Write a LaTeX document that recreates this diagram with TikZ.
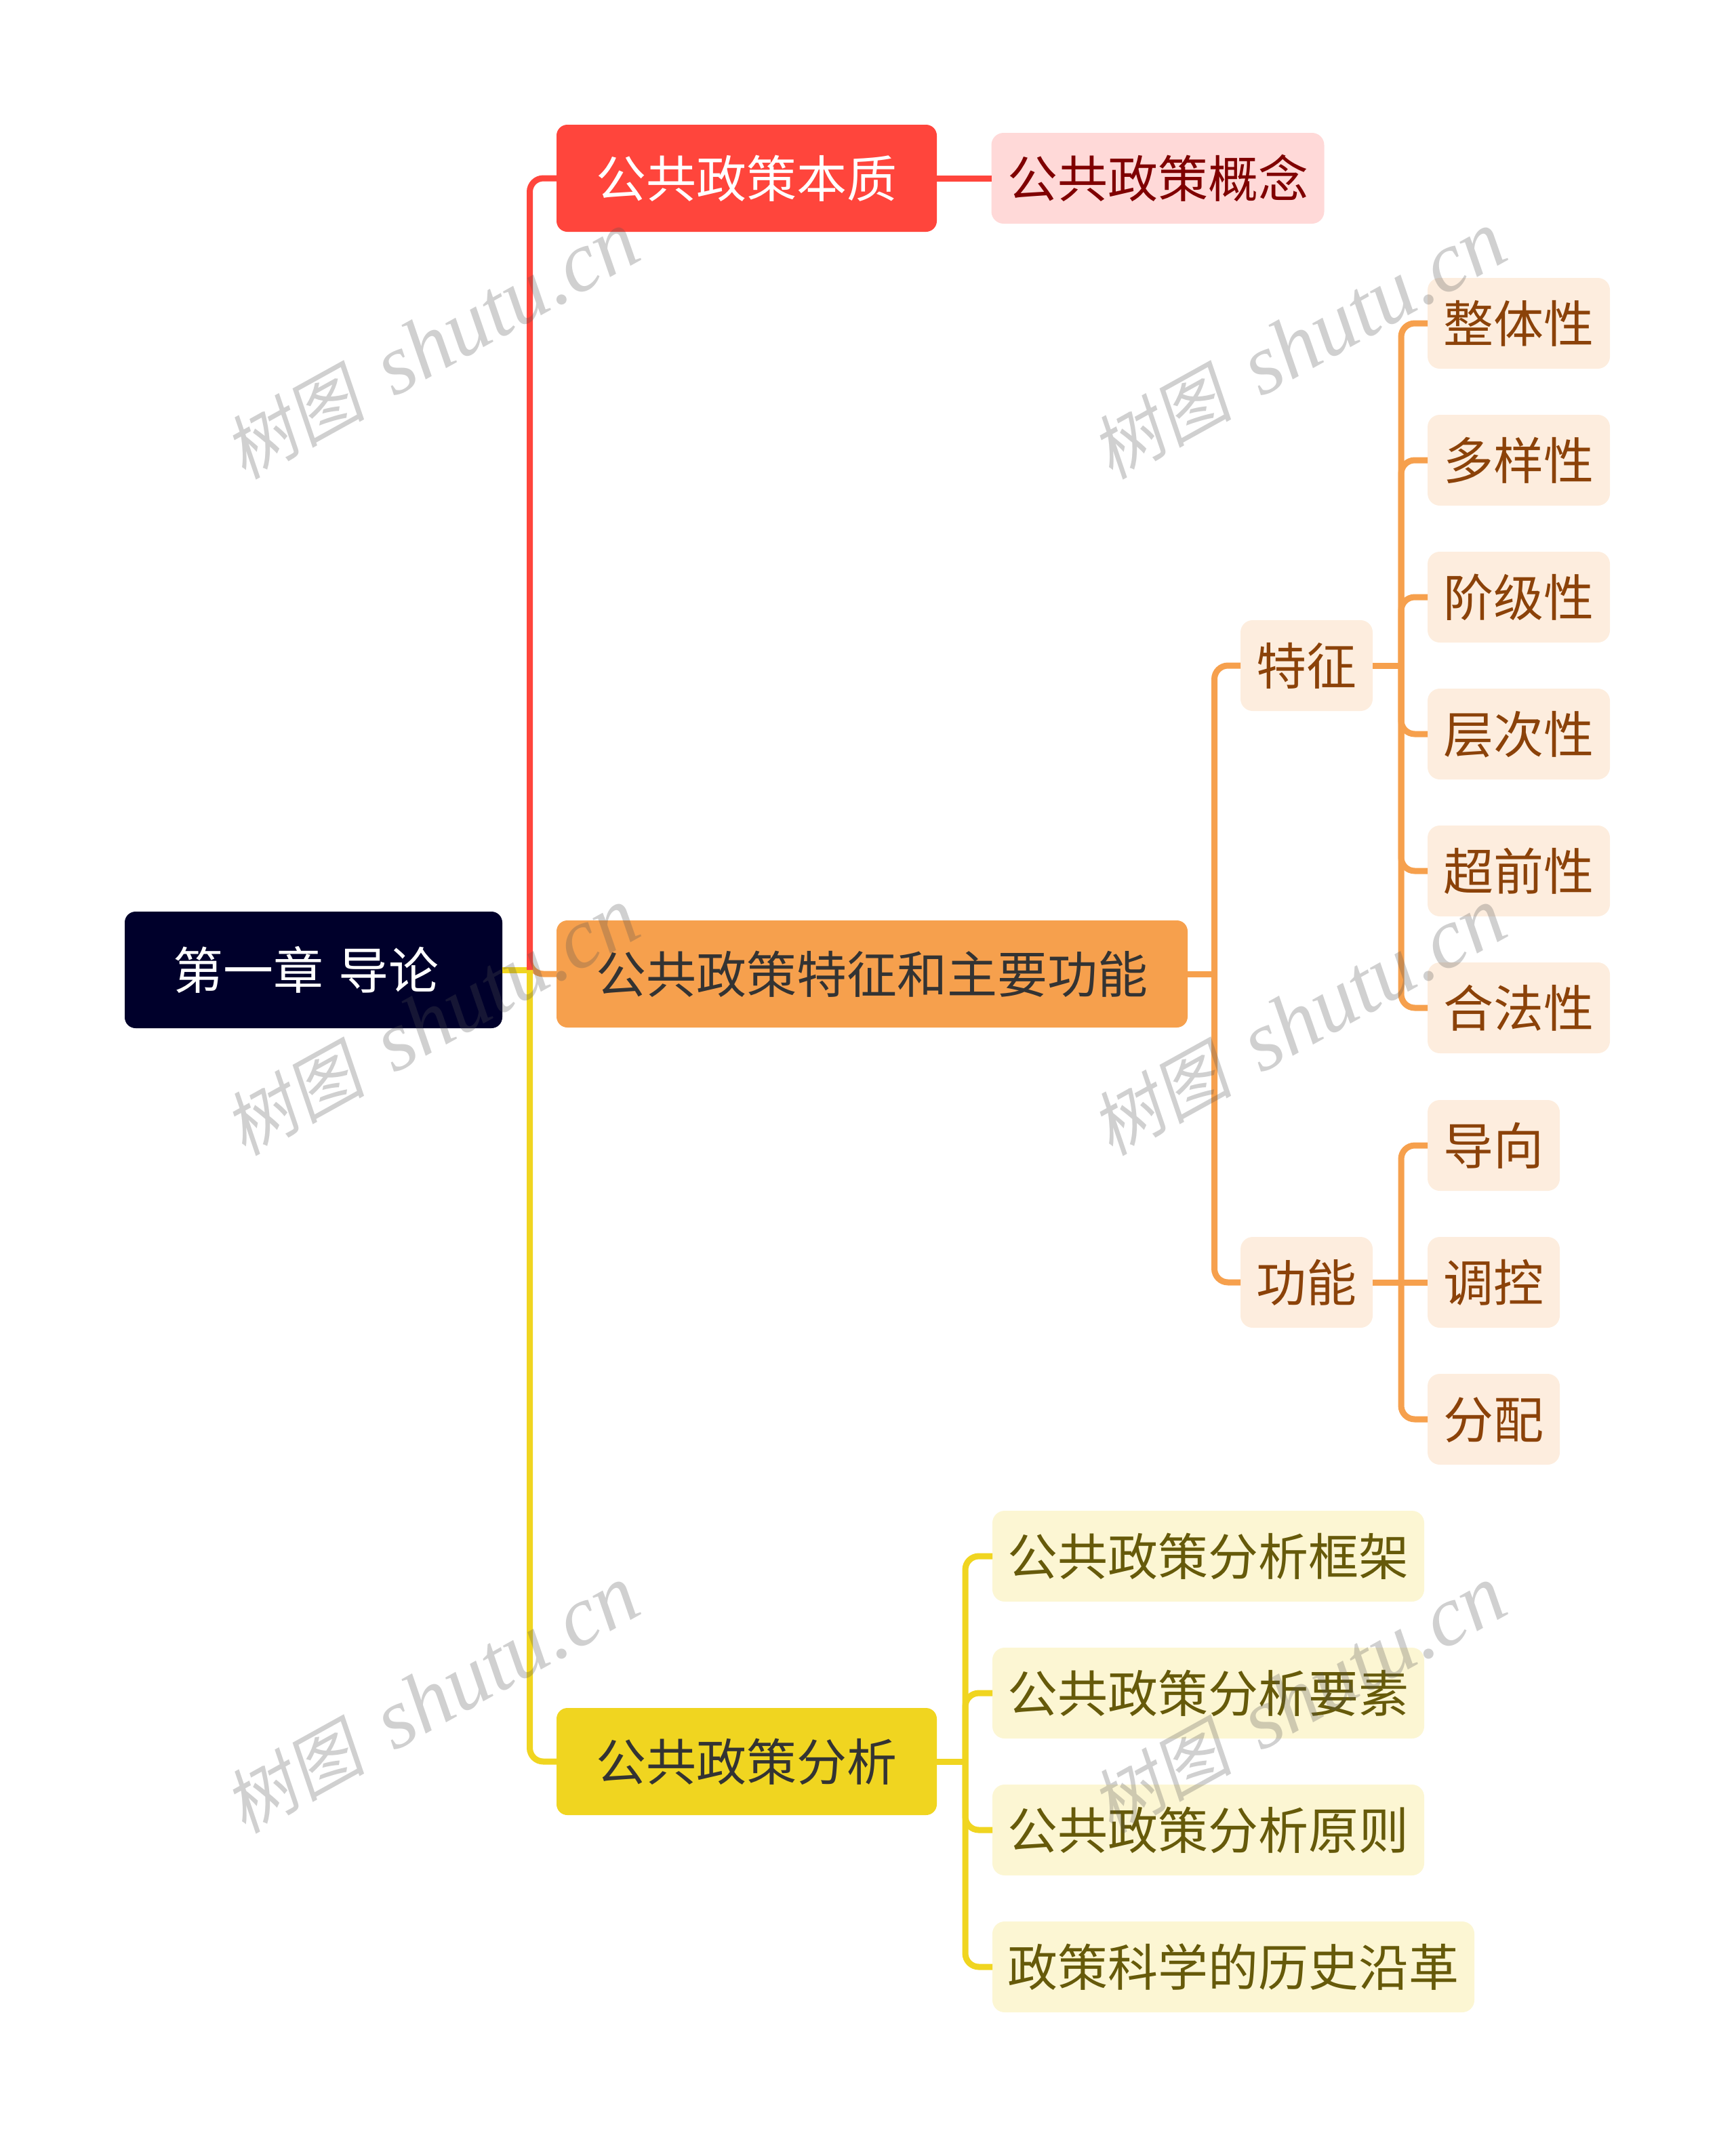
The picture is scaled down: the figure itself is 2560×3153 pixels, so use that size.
\documentclass[tikz,border=0pt]{standalone}
\usepackage{fontspec}
\usetikzlibrary{positioning}
\setmainfont{Noto Sans CJK SC}
\newfontfamily\stampcjk[FakeSlant=0.18]{Noto Sans CJK SC}
\newfontfamily\stamplatin{Liberation Serif}
\definecolor{rootc}{HTML}{00002B}
\definecolor{redc}{HTML}{FF453C}
\definecolor{orangec}{HTML}{F6A04D}
\definecolor{yellowc}{HTML}{F0D520}
\definecolor{redlight}{HTML}{FFD9D8}
\definecolor{orangelight}{HTML}{FDEDDE}
\definecolor{yellowlight}{HTML}{FCF6D3}
\definecolor{redtext}{HTML}{7F0000}
\definecolor{orangetext}{HTML}{8B4209}
\definecolor{yellowtext}{HTML}{665A0A}
\definecolor{darktext}{HTML}{333333}
\tikzset{every box node/.style={inner ysep=0pt,outer sep=0pt,text height=65pt,text depth=9pt,font=\fontsize{74}{80}\selectfont}}
\tikzset{root node/.style={every box node,fill=rootc,text=white,rounded corners=16pt,minimum width=557pt,minimum height=172pt}}
\tikzset{main node/.style={every box node,rounded corners=16pt,minimum height=158pt,inner xsep=58.5pt}}
\tikzset{leaf node/.style={every box node,rounded corners=18pt,minimum height=134pt,inner xsep=23.5pt}}
\tikzset{red leaf/.style={leaf node,fill=redlight,text=redtext}}
\tikzset{orange leaf/.style={leaf node,fill=orangelight,text=orangetext}}
\tikzset{yellow leaf/.style={leaf node,fill=yellowlight,text=yellowtext,inner xsep=22.5pt}}
\tikzset{red link/.style={draw=redc,line width=9pt,rounded corners=20pt}}
\tikzset{orange link/.style={draw=orangec,line width=9pt,rounded corners=20pt}}
\tikzset{yellow link/.style={draw=yellowc,line width=9pt,rounded corners=20pt}}
\tikzset{stamp/.style={rotate=29,text=black!68,opacity=.27,inner sep=0pt}}
\newcommand{\stamptext}{{\fontsize{104}{110}\stampcjk 树图}\hspace{44pt}{\fontsize{126}{130}\stamplatin\itshape shutu.cn}}

\begin{document}
\begin{tikzpicture}[x=1pt,y=-1pt,node distance=68pt]
    \useasboundingbox (0,0) rectangle (2560,3153);

    \node[root node](root) at (462.5,1431){第一章\hspace{6pt} 导论\kern22pt};

    \node[main node, fill=redc, text=white, anchor=west](bz) at (821,263){公共政策本质};
    \node[red leaf, right=80.5pt of bz](gn){公共政策概念};

    \node[main node, fill=orangec, text=darktext, anchor=west](tz) at (821,1437){公共政策特征和主要功能};
    \node[orange leaf, anchor=west](tezh) at (1830,982){特征};
    \node[orange leaf, anchor=west](gnen) at (1830,1892){功能};

    \node[orange leaf, anchor=west](zt) at (2106,477){整体性};
    \node[orange leaf, below=of zt](dy){多样性};
    \node[orange leaf, below=of dy](jj){阶级性};
    \node[orange leaf, below=of jj](cc){层次性};
    \node[orange leaf, below=of cc](cq){超前性};
    \node[orange leaf, below=of cq](hf){合法性};

    \node[orange leaf, anchor=west](dx) at (2106,1690){导向};
    \node[orange leaf, below=of dx](tk){调控};
    \node[orange leaf, below=of tk](fp){分配};

    \node[main node, fill=yellowc, text=darktext, anchor=west](fx) at (821,2599){公共政策分析};
    \node[yellow leaf, anchor=west](kj) at (1464,2296){公共政策分析框架};
    \node[yellow leaf, below=of kj](ys){公共政策分析要素};
    \node[yellow leaf, below=of ys](yz){公共政策分析原则};
    \node[yellow leaf, below=of yz.south west, anchor=north west](ls){政策科学的历史沿革};

    \coordinate (trunk) at (781.5,1431);
    \coordinate (tzbus) at (1791.5,1437);
    \coordinate (tezhbus) at (2067,982);
    \coordinate (gnenbus) at (2067,1892);
    \coordinate (fxbus) at (1424,2599);

    % root branches
    \draw[orange link] (trunk) |- (tz.west);
    \draw[yellow link] (root.east) -- (trunk);
    \draw[yellow link] (trunk) |- (fx.west);
    \draw[red link] (trunk) |- (bz.west);
    \draw[red link] (bz.east) -- (gn.west);

    \draw[orange link] (tz.east) -- (tzbus);
    \draw[orange link] (tzbus) |- (tezh.west);
    \draw[orange link] (tzbus) |- (gnen.west);

    \draw[orange link] (tezh.east) -- (tezhbus);
    \draw[orange link] (tezhbus) |- (zt.west);
    \draw[orange link] (tezhbus) |- (dy.west);
    \draw[orange link] (tezhbus) |- (jj.west);
    \draw[orange link] (tezhbus) |- (cc.west);
    \draw[orange link] (tezhbus) |- (cq.west);
    \draw[orange link] (tezhbus) |- (hf.west);

    \draw[orange link] (gnen.east) -- (gnenbus);
    \draw[orange link] (gnenbus) |- (dx.west);
    \draw[orange link] (gnenbus) -- (tk.west);
    \draw[orange link] (gnenbus) |- (fp.west);

    \draw[yellow link] (fx.east) -- (fxbus);
    \draw[yellow link] (fxbus) |- (kj.west);
    \draw[yellow link] (fxbus) |- (ys.west);
    \draw[yellow link] (fxbus) |- (yz.west);
    \draw[yellow link] (fxbus) |- (ls.west);

    \node[stamp](wm1) at (637,510){\stamptext};
    \node[stamp](wm2) at (1916,510){\stamptext};
    \node[stamp](wm3) at (637,1508){\stamptext};
    \node[stamp](wm4) at (1916,1508){\stamptext};
    \node[stamp](wm5) at (637,2508){\stamptext};
    \node[stamp](wm6) at (1916,2508){\stamptext};
\end{tikzpicture}
\end{document}
